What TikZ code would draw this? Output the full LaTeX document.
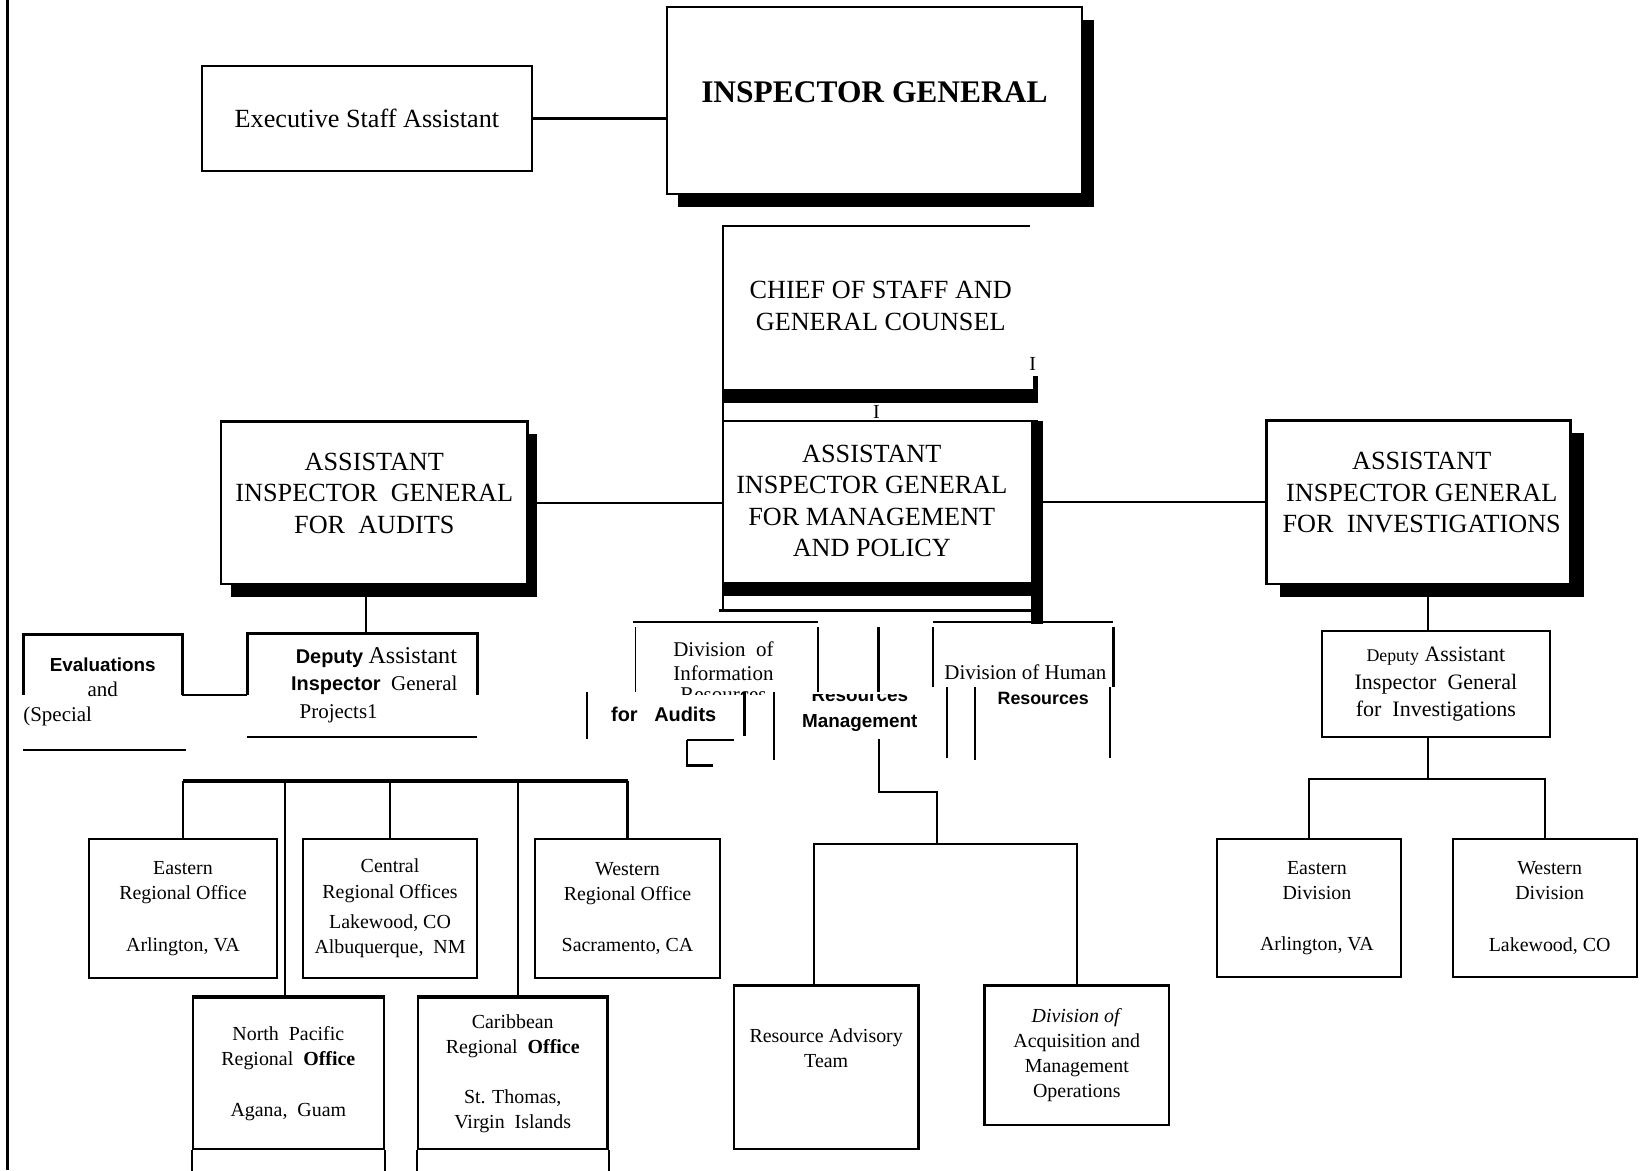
\documentclass[tikz,border=0pt]{standalone}
\usepackage{fontspec}
\setmainfont{Liberation Serif}
\setsansfont{Liberation Sans}
\usetikzlibrary{shadows}

\newcommand{\capsize}{\fontsize{25}{30}\selectfont}
\newcommand{\smallsize}{\fontsize{19}{24}\selectfont}
\newcommand{\boldsans}[1]{{\sffamily\bfseries #1}}

\begin{document}
\begin{tikzpicture}[x=1pt,y=-1pt,
   box/.style={draw,line width=2.2pt,fill=white,align=center,inner sep=0pt},
   loose/.style={inner sep=0pt,align=center},
   capstext/.style={loose,font=\capsize},
   office/.style={box,font=\smallsize},
   heavy/.style={drop shadow={shadow xshift=#1,shadow yshift=-12pt,fill=black,opacity=1}},
   rule/.style={line width=2.2pt},
   link/.style={line width=2pt},
   bar/.style={line width=4pt}]
\useasboundingbox (0,0) rectangle (1568,1116);
\draw[line width=3pt] (7,0) -- (7,1116);

% top of the chart
\node[box,font=\capsize,line width=1.8pt,minimum width=314pt,minimum height=100pt] (exec) at (350,113) {Executive Staff Assistant};
\node[box,heavy=11pt,minimum width=396pt,minimum height=178pt,
  label={[loose,font=\fontsize{30}{36}\selectfont\bfseries,yshift=8pt]center:INSPECTOR GENERAL}] (ig) at (834,96) {};
\draw[link] (exec.east) -- (exec.east -| ig.west);

% chief of staff, open on the right
\node[loose,minimum width=300pt,minimum height=168pt,
  label={[capstext,yshift=8pt]center:{CHIEF OF STAFF AND\\GENERAL COUNSEL}}] (chief) at (840,300) {};
\draw[rule] ([xshift=-8pt]chief.north east) -- (chief.north west) -- (chief.south west);
\fill (chief.south west) rectangle ([yshift=13pt]chief.south east);
\fill ([xshift=-5pt,yshift=12pt]chief.south east) rectangle ([yshift=26pt]chief.south east);
\node[loose,font=\smallsize] (chiefmark) at (985,347) {I};
\node[loose,font=\smallsize] (chiefsep) at (836,393) {I};

% management and policy
\node[loose,minimum width=295pt,minimum height=166pt,
  label={[capstext,xshift=-6pt,yshift=7pt]center:{ASSISTANT\\INSPECTOR GENERAL\\FOR MANAGEMENT\\AND POLICY}}] (mgmt) at (837.5,485) {};
\draw[rule] ([xshift=5pt]mgmt.north east) -- (mgmt.north west);
\draw[rule] (chief.south west) -- ([yshift=-14pt]mgmt.south west);
\fill ([xshift=-2pt]mgmt.north east) rectangle ([xshift=10pt,yshift=-27pt]mgmt.south east);
\fill (mgmt.south west) rectangle ([xshift=10pt,yshift=13pt]mgmt.south east);
\draw[rule] ([xshift=-4pt,yshift=-14pt]mgmt.south west) -- ([xshift=-2pt,yshift=-14pt]mgmt.south east);

% audits and investigations
\node[box,heavy=9pt,minimum width=292pt,minimum height=155pt,
  label={[capstext,yshift=9pt]center:{ASSISTANT\\INSPECTOR\ \ GENERAL\\FOR\ \ AUDITS}}] (audits) at (357,479.5) {};
\node[box,heavy=13pt,minimum width=290pt,minimum height=156pt,
  label={[capstext,xshift=3pt,yshift=9pt]center:{ASSISTANT\\INSPECTOR GENERAL\\FOR\ \ INVESTIGATIONS}}] (inv) at (1353,479) {};
\draw[link] (audits.east) -- (audits.east -| mgmt.west);
\draw[link] (inv.west -| mgmt.east) -- (inv.west);

% investigations branch
\node[box,font=\fontsize{21}{26.5}\selectfont,minimum width=217pt,minimum height=101pt] (depinv) at (1369.5,652.5)
  {{\fontsize{17}{20}\selectfont Deputy} Assistant\\Inspector\ \ General\\for\ \ Investigations};
\draw[link] ([xshift=-7.5pt]depinv.north) -- ([xshift=-7.5pt]depinv.north |- inv.south);
\coordinate (invbar) at (1362,743);
\node[office,minimum width=175pt,minimum height=132pt] (eastdiv) at (1248.5,866) {\hspace*{15pt}Eastern\\\hspace*{15pt}Division\\[25pt]\hspace*{15pt}Arlington, VA};
\node[office,minimum width=175pt,minimum height=132pt] (westdiv) at (1473.5,866) {\hspace*{9pt}Western\\\hspace*{9pt}Division\\[25pt]\hspace*{9pt}Lakewood, CO};
\draw[link] ([xshift=-7.5pt]depinv.south) -- (invbar);
\draw[link] (eastdiv.north) -- (eastdiv.north |- invbar) -- (westdiv.north |- invbar) -- (westdiv.north);

% audits branch
\node[loose,font=\fontsize{20}{26}\selectfont,minimum width=219pt,minimum height=99pt] (depaud) at (345.5,653.5)
  {\hspace*{27pt}{\fontsize{19}{26}\selectfont\boldsans{Deputy}} {\fontsize{23}{26}\selectfont Assistant}\\
   \hspace*{23pt}{\fontsize{19}{26}\selectfont\boldsans{Inspector}}\ \ General\\
   Projects1\hspace*{45pt}};
\draw[line width=3pt] ([yshift=-59pt]depaud.north west) -- (depaud.north west) -- (depaud.north east) -- ([yshift=-59pt]depaud.north east);
\draw[rule] (depaud.south west) -- (depaud.south east);
\draw[link] ([xshift=-8pt]audits.south) -- ([xshift=-8pt]audits.south |- depaud.north);
\node[loose,font=\fontsize{20}{23.5}\selectfont,minimum width=148pt,minimum height=110pt] (evals) at (98,660)
  {{\fontsize{18}{23.5}\selectfont\boldsans{Evaluations}}\\and\\(Special\hspace*{86pt}};
\draw[line width=3pt] ([yshift=-58pt]evals.north west) -- (evals.north west) -- (evals.north east) -- ([yshift=-58pt]evals.north east);
\draw[rule] (evals.south west) -- ([xshift=3pt]evals.south east);
\draw[link] ([yshift=-58pt]evals.north east) -- ([yshift=-58pt]evals.north east -| depaud.west);

% regional offices
\coordinate (regbar) at (176,745);
\node[office,minimum width=179pt,minimum height=133pt] (eastreg) at (174.5,866.5) {Eastern\\Regional Office\\[25pt]Arlington, VA};
\node[office,minimum width=166pt,minimum height=133pt] (centreg) at (372,866.5) {Central\\Regional Offices\\[5pt]Lakewood, CO\\Albuquerque,\ \ NM};
\node[office,minimum width=177pt,minimum height=133pt] (westreg) at (598.5,866.5) {Western\\Regional Office\\[25pt]Sacramento, CA};
\node[office,minimum width=182pt,minimum height=144pt] (npreg) at (275,1024) {North\ \ Pacific\\Regional\ \ \textbf{Office}\\[24pt]Agana,\ \ Guam};
\node[office,minimum width=181pt,minimum height=144pt] (carreg) at (489,1024) {Caribbean\\Regional\ \ \textbf{Office}\\[24pt]St. Thomas,\\Virgin\ \ Islands};
\draw[rule] (npreg.south west) -- ++(0,24);
\draw[rule] (npreg.south east) -- ++(0,24);
\draw[rule] (carreg.south west) -- ++(0,24);
\draw[rule] (carreg.south east) -- ++(0,24);
\draw[bar] (npreg.north west) -- (npreg.north east);
\draw[bar] (carreg.north west) -- (carreg.north east);
\draw[bar] (eastreg.north |- regbar) -- (westreg.north |- regbar);
\draw[link] (eastreg.north) -- (eastreg.north |- regbar);
\draw[link] (centreg.north) -- (centreg.north |- regbar);
\draw[link] (westreg.north) -- (westreg.north |- regbar);
\draw[link] ([xshift=-3pt]npreg.north) -- ([xshift=-3pt]npreg.north |- regbar);
\draw[link] ([xshift=5pt]carreg.north) -- ([xshift=5pt]carreg.north |- regbar);

% broken divisions under management
\draw[rule] (604,593) -- (780,593);
\draw[line width=1.2pt] (606,598) -- (606,660);
\draw[rule] (780,598) -- (780,660);
\node[loose,font=\fontsize{20}{23}\selectfont] (infodiv) at (690,630.5) {Division\ \ of\\Information};
\begin{scope}
  \clip (600,650) rectangle (790,662);
  \node[loose,font=\fontsize{20}{23}\selectfont,text depth=0pt,anchor=base] (inforesources) at (690,669) {Resources};
\end{scope}
\draw[rule] (560,660) -- (560,705);
\draw[rule] (710,660) -- (710,702);
\draw[rule] (738,660) -- (738,725);
\node[loose,font=\fontsize{19}{23}\selectfont\sffamily\bfseries] (foraudits) at (633,681) {for\ \ \ Audits};
\draw[line width=1.5pt] (655,706) -- (700,706);
\draw[rule] (655,706) -- (655,730) -- (680,730);

\draw[rule] (838,598) -- (838,660);
\begin{scope}
  \clip (740,662) rectangle (900,720);
  \node[loose,font=\fontsize{18}{25}\selectfont\sffamily\bfseries] (resmgmt) at (820,677.5) {Resources\\Management};
\end{scope}

\draw[rule] (890,593) -- (1062,593);
\draw[rule] (890,598) -- (890,655);
\draw[rule] (1062,598) -- (1062,655);
\draw[rule] (903,655) -- (903,723);
\draw[rule] (930,655) -- (930,725);
\draw[rule] (1059,655) -- (1059,723);
\node[loose,font=\fontsize{20}{24}\selectfont] (humres) at (985,653)
  {Division of Human\hspace*{14pt}\\\hspace*{20pt}{\fontsize{17}{24}\selectfont\boldsans{Resources}}};

% resources management branch
\coordinate (rmtail) at (838,705);
\coordinate (mgmtbar) at (894,805);
\node[office,minimum width=176pt,minimum height=156pt,
  label={[loose,font=\smallsize,yshift=18pt]center:{Resource Advisory\\Team}}] (rat) at (788,1018) {};
\node[office,minimum width=176pt,minimum height=133pt] (daq) at (1027,1006.5) {\textit{Division of}\\Acquisition and\\Management\\Operations};
\draw[link] (rmtail) |- ([yshift=50pt]mgmtbar) -- (mgmtbar);
\draw[link] ([xshift=-12pt]rat.north) -- ([xshift=-12pt]rat.north |- mgmtbar) -- (daq.north |- mgmtbar) -- (daq.north);
\end{tikzpicture}
\end{document}
